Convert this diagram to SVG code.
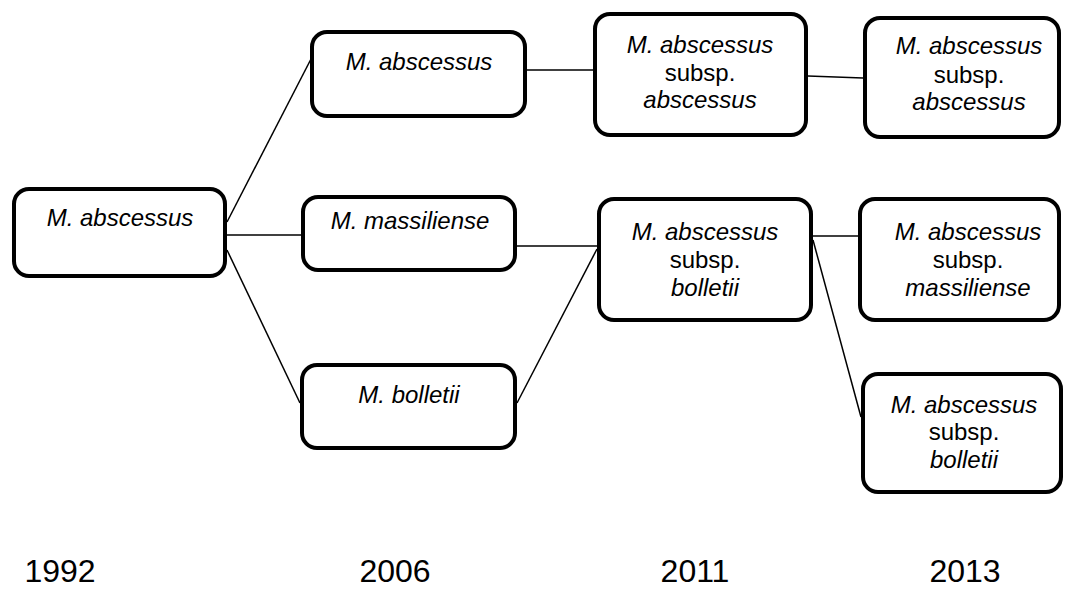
<svg xmlns="http://www.w3.org/2000/svg" width="1065" height="589" viewBox="0 0 1065 589">
<style>
.box{fill:#fff;stroke:#000;stroke-width:4}
.t{font-family:"Liberation Sans",Arial,sans-serif;font-size:24px;fill:#000;text-anchor:middle}
.i{font-style:italic}
.yr{font-family:"Liberation Sans",Arial,sans-serif;font-size:32px;fill:#000;text-anchor:middle}
.c{stroke:#000;stroke-width:1.5;fill:none}
</style>
<rect width="1065" height="589" fill="#fff"/>
<g id="connectors">
<line class="c" x1="227" y1="222" x2="311" y2="59"/>
<line class="c" x1="227" y1="235" x2="301" y2="235"/>
<line class="c" x1="227" y1="250" x2="300" y2="403"/>
<line class="c" x1="527" y1="70" x2="593" y2="70"/>
<line class="c" x1="808" y1="76" x2="863" y2="78"/>
<line class="c" x1="517" y1="246" x2="597" y2="246"/>
<line class="c" x1="517" y1="403" x2="597" y2="249"/>
<line class="c" x1="813" y1="236" x2="858" y2="236"/>
<line class="c" x1="813" y1="240" x2="861" y2="417"/>
</g>
<g id="n1992">
<rect class="box" x="14" y="189" width="211" height="87" rx="15"/>
<text class="t i" x="120" y="226">M. abscessus</text>
</g>
<g id="n2006a">
<rect class="box" x="312" y="32" width="213" height="84" rx="15"/>
<text class="t i" x="419" y="70">M. abscessus</text>
</g>
<g id="n2006m">
<rect class="box" x="303" y="197" width="212" height="73" rx="15"/>
<text class="t i" x="410" y="229">M. massiliense</text>
</g>
<g id="n2006b">
<rect class="box" x="302" y="365" width="213" height="83" rx="15"/>
<text class="t i" x="409" y="403">M. bolletii</text>
</g>
<g id="n2011a">
<rect class="box" x="595" y="14" width="211" height="121" rx="15"/>
<text class="t i" x="700" y="53">M. abscessus</text>
<text class="t" x="700" y="81">subsp.</text>
<text class="t i" x="700" y="108">abscessus</text>
</g>
<g id="n2013a">
<rect class="box" x="865" y="18" width="194" height="119" rx="15"/>
<text class="t i" x="969" y="54">M. abscessus</text>
<text class="t" x="969" y="83">subsp.</text>
<text class="t i" x="969" y="110">abscessus</text>
</g>
<g id="n2011b">
<rect class="box" x="599" y="199" width="212" height="121" rx="15"/>
<text class="t i" x="705" y="240">M. abscessus</text>
<text class="t" x="705" y="268">subsp.</text>
<text class="t i" x="705" y="296">bolletii</text>
</g>
<g id="n2013m">
<rect class="box" x="860" y="199" width="199" height="121" rx="15"/>
<text class="t i" x="968" y="240">M. abscessus</text>
<text class="t" x="968" y="268">subsp.</text>
<text class="t i" x="968" y="296">massiliense</text>
</g>
<g id="n2013b">
<rect class="box" x="863" y="374" width="198" height="118" rx="15"/>
<text class="t i" x="964" y="413">M. abscessus</text>
<text class="t" x="964" y="440">subsp.</text>
<text class="t i" x="964" y="468">bolletii</text>
</g>
<g id="years">
<text class="yr" x="60" y="582">1992</text>
<text class="yr" x="395" y="582">2006</text>
<text class="yr" x="695" y="582">2011</text>
<text class="yr" x="965" y="582">2013</text>
</g>
</svg>
